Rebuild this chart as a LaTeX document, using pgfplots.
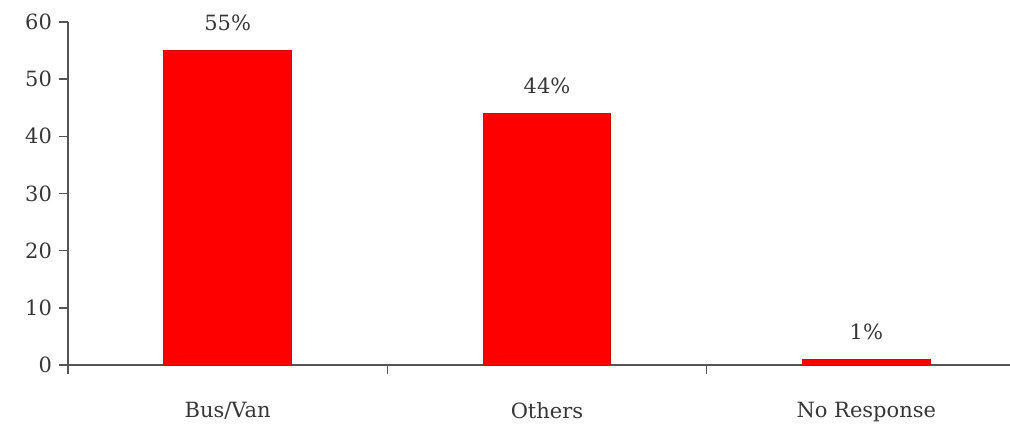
\documentclass[border=0pt]{standalone}
\usepackage{fontspec}
\setmainfont{DejaVu Serif}
\usepackage{pgfplots}
\pgfplotsset{compat=1.18}
\definecolor{axgray}{RGB}{85,85,85}
\definecolor{txt}{RGB}{55,55,55}
\begin{document}
\begin{tikzpicture}
\begin{axis}[
  name=ax,
  scale only axis,
  width=471pt, height=171.5pt,
  xmin=-0.5, xmax=2.45,
  ymin=0, ymax=60,
  axis lines*=left,
  axis line style={axgray, line width=0.8pt},
  tick style={axgray, line width=0.8pt},
  tick align=outside,
  major tick length=4.5pt,
  ytick={0,10,20,30,40,50,60},
  xtick={-0.5,0.5,1.5},
  xticklabels={},
  extra x ticks={0,1,2},
  extra x tick labels={Bus/Van,Others,No Response},
  extra x tick style={major tick length=0pt, tick label style={yshift=-15pt}},
  tick label style={font=\fontsize{10.5}{12}\selectfont, text=txt},
  /pgf/number format/assume math mode=true,
  enlargelimits=false,
  clip=false,
  nodes near coords={\pgfmathprintnumber{\pgfplotspointmeta}\%},
  every node near coord/.append style={anchor=base, yshift=10pt, font=\fontsize{10.5}{12}\selectfont, text=txt},
]
\addplot[ybar, bar width=0.4, fill=red, draw=red!85!black, line width=0.4pt]
  coordinates {(0,55) (1,44) (2,1)};
\end{axis}
\path (ax.south west) ++(-34pt,-32pt) coordinate (bbA);
\path (ax.north east) ++(0pt,11pt) coordinate (bbB);
\pgfresetboundingbox
\path[use as bounding box] (bbA) rectangle (bbB);
\end{tikzpicture}
\end{document}
